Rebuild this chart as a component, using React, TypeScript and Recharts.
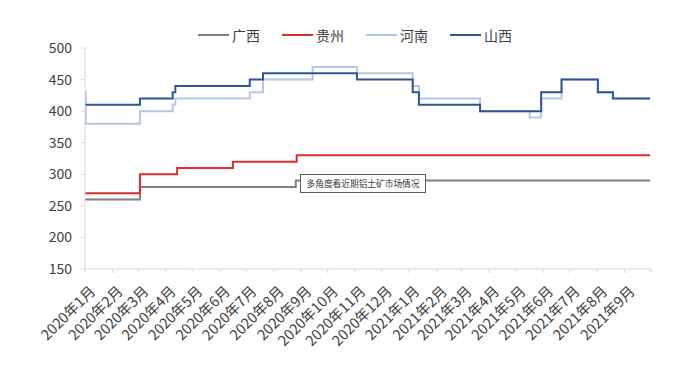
import { Line, LineChart, XAxis, YAxis } from 'recharts'

const monthLabels = [
  '2020年1月', '2020年2月', '2020年3月', '2020年4月', '2020年5月', '2020年6月', '2020年7月',
  '2020年8月', '2020年9月', '2020年10月', '2020年11月', '2020年12月', '2021年1月', '2021年2月',
  '2021年3月', '2021年4月', '2021年5月', '2021年6月', '2021年7月', '2021年8月', '2021年9月', '',
]
const monthStarts = [
  '2020-01-01', '2020-02-01', '2020-03-01', '2020-04-01', '2020-05-01', '2020-06-01', '2020-07-01',
  '2020-08-01', '2020-09-01', '2020-10-01', '2020-11-01', '2020-12-01', '2021-01-01', '2021-02-01',
  '2021-03-01', '2021-04-01', '2021-05-01', '2021-06-01', '2021-07-01', '2021-08-01', '2021-09-01',
  '2021-10-01',
]
const yTicks = [150, 200, 250, 300, 350, 400, 450, 500]

// 广西
const guangxiDates = ['2020-01-01', '2020-03-03', '2020-08-26', '2021-09-30']
const guangxiValues = [260, 280, 290, 290]

// 贵州
const guizhouDates = ['2020-01-01', '2020-03-03', '2020-04-14', '2020-06-16', '2020-08-27', '2021-09-30']
const guizhouValues = [270, 300, 310, 320, 330, 330]

// 河南
const henanDates = [
  '2020-01-01', '2020-01-02', '2020-03-03', '2020-04-09', '2020-04-12', '2020-07-05', '2020-07-20',
  '2020-09-14', '2020-11-03', '2021-01-05', '2021-01-12', '2021-03-22', '2021-05-17', '2021-05-30',
  '2021-06-22', '2021-08-02', '2021-08-19', '2021-09-30',
]
const henanValues = [430, 380, 400, 410, 420, 430, 450, 470, 460, 440, 420, 400, 390, 420, 450, 430, 420, 420]

// 山西
const shanxiDates = [
  '2020-01-01', '2020-03-03', '2020-04-09', '2020-04-12', '2020-07-05', '2020-07-20', '2020-11-03',
  '2021-01-05', '2021-01-12', '2021-03-22', '2021-05-30', '2021-06-22', '2021-08-02', '2021-08-19',
  '2021-09-30',
]
const shanxiValues = [410, 420, 430, 440, 450, 460, 450, 430, 410, 400, 430, 450, 430, 420, 420]

const FONT = '"Noto Sans CJK SC", "Noto Sans", sans-serif'
const TEXT_COLOR = '#404040'
const AXIS_COLOR = '#d9d9d9'

function toDay(date: string): number {
  const [y, m, d] = date.split('-').map(Number)
  return (Date.UTC(y, m - 1, d) - Date.UTC(2020, 0, 1)) / 86400000
}

function toRows(dates: string[], values: number[]) {
  return dates.map((date, i) => ({ day: toDay(date), value: values[i] }))
}

const monthTicks = monthStarts.map(toDay)

const seriesList = [
  { name: '广西', color: '#808080', rows: toRows(guangxiDates, guangxiValues) },
  { name: '贵州', color: '#d7312c', rows: toRows(guizhouDates, guizhouValues) },
  { name: '河南', color: '#b4c7e7', rows: toRows(henanDates, henanValues) },
  { name: '山西', color: '#2f5597', rows: toRows(shanxiDates, shanxiValues) },
]

function TopLegend() {
  return (
    <div
      style={{
        position: 'absolute',
        top: 26,
        left: 198,
        display: 'flex',
        gap: 22,
        fontFamily: FONT,
        fontSize: 14,
        color: TEXT_COLOR,
        lineHeight: '18px',
      }}
    >
      {seriesList.map((s) => (
        <div key={s.name} style={{ display: 'flex', alignItems: 'center' }}>
          <span style={{ width: 31, height: 2, background: s.color, marginRight: 3 }} />
          <span>{s.name}</span>
        </div>
      ))}
    </div>
  )
}

export default function App() {
  return (
    <div style={{ position: 'absolute', left: 0, top: 0, width: 700, height: 370, background: '#fff' }}>
      <LineChart
        width={700}
        height={370}
        margin={{ top: 48, right: 49, bottom: 0, left: 0 }}
        style={{ fontFamily: FONT }}
      >
        <XAxis
          type="number"
          dataKey="day"
          domain={[0, monthTicks[monthTicks.length - 1]]}
          ticks={monthTicks}
          interval={0}
          tickFormatter={(v: number) => monthLabels[monthTicks.indexOf(v)] ?? ''}
          height={101}
          angle={-45}
          textAnchor="end"
          tickSize={4}
          tickMargin={12}
          tick={{ fill: TEXT_COLOR, fontSize: 14.5, dx: 4 }}
          stroke={AXIS_COLOR}
          allowDataOverflow
        />
        <YAxis
          type="number"
          domain={[150, 500]}
          ticks={yTicks}
          interval={0}
          width={85}
          tickSize={4}
          tickMargin={9}
          tick={{ fill: TEXT_COLOR, fontSize: 14 }}
          stroke={AXIS_COLOR}
          allowDataOverflow
        />
        {seriesList.map((s) => (
          <Line
            key={s.name}
            name={s.name}
            data={s.rows}
            dataKey="value"
            type="stepAfter"
            stroke={s.color}
            strokeWidth={2}
            dot={false}
            activeDot={false}
            isAnimationActive={false}
          />
        ))}
      </LineChart>
      <TopLegend />
      <div
        style={{
          position: 'absolute',
          left: 300,
          top: 174,
          width: 124,
          height: 17,
          border: '1px solid #595959',
          background: '#fff',
          fontFamily: FONT,
          fontSize: 8.7,
          color: '#333',
          lineHeight: '17px',
          textAlign: 'center',
          whiteSpace: 'nowrap',
        }}
      >
        多角度看近期铝土矿市场情况
      </div>
    </div>
  )
}
